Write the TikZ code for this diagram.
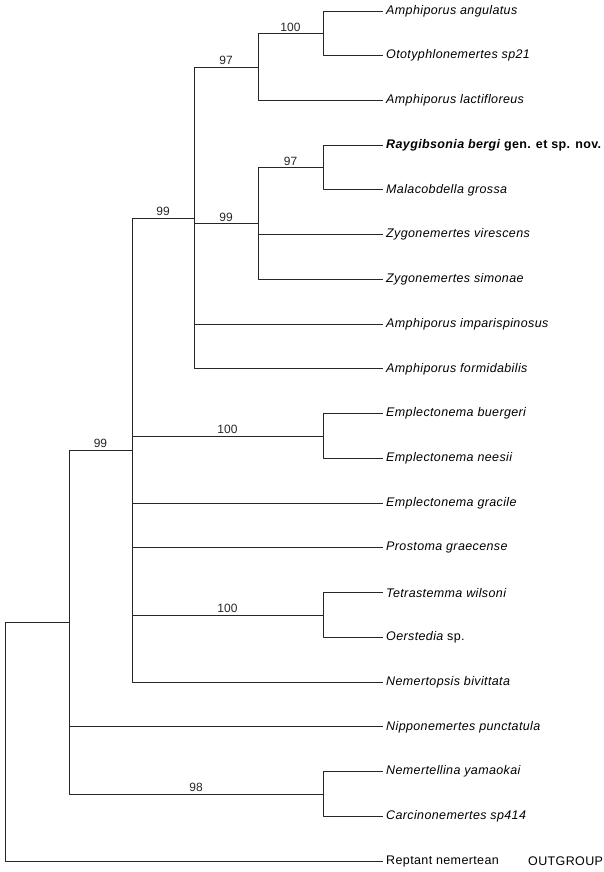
\documentclass[tikz,border=0pt]{standalone}
\usepackage{fontspec}
\setmainfont{Liberation Sans}
\newfontfamily\taxfont[LetterSpace=3]{Liberation Sans}
\begin{document}
\begin{tikzpicture}[line join = round, x=1pt, y=-1pt,
		font=\fontsize{12}{14}\selectfont,
		taxon/.style={anchor=west, inner sep=3pt, font=\fontsize{12.5}{14}\taxfont\itshape},
		branch/.style={line width=0.9pt, black!85},
		boot/.style={above, inner sep=1.5pt, pos=0.75}]
				\useasboundingbox (0,0) rectangle (604,872);
				\def \xl{383};
				\def \dy{44.737};
				% taxa, top to bottom
				\foreach \n/\t in {1/Amphiporus angulatus, 2/Ototyphlonemertes sp21, 3/Amphiporus lactifloreus,
					4/{\bfseries Raygibsonia bergi \upshape gen. et sp. nov.}, 5/Malacobdella grossa,
					6/Zygonemertes virescens, 7/Zygonemertes simonae, 8/Amphiporus imparispinosus,
					9/Amphiporus formidabilis, 10/Emplectonema buergeri, 11/Emplectonema neesii,
					12/Emplectonema gracile, 13/Prostoma graecense, 14/Tetrastemma wilsoni,
					15/{Oerstedia \upshape sp.}, 16/Nemertopsis bivittata, 17/Nipponemertes punctatula,
					18/Nemertellina yamaokai, 19/Carcinonemertes sp414, 20/{\upshape Reptant nemertean}}
					\node[taxon] (t\n) at (\xl,{11+(\n-1)*\dy}) {\t};
				\node[anchor=west, inner sep=0pt, font=\fontsize{12.5}{14}\taxfont] (og) at (528,861) {OUTGROUP};
				\path
				(323,33.4) coordinate (angOto)
				(258,67) coordinate (amph)
				(323,167.6) coordinate (rayMal)
				(258,223.5) coordinate (zygo)
				(194,218) coordinate (hoplo)
				(323,436) coordinate (emple)
				(323,615) coordinate (tetOer)
				(132,450) coordinate (mono)
				(323,794) coordinate (carci)
				(69,622) coordinate (ingroup)
				(5,741.5) coordinate (root)
				;
				\foreach \a/\b in {angOto/t1,angOto/t2,amph/t3,rayMal/t4,rayMal/t5,zygo/t6,zygo/t7,
					hoplo/t8,hoplo/t9,emple/t10,emple/t11,mono/t12,mono/t13,tetOer/t14,tetOer/t15,
					mono/t16,ingroup/t17,carci/t18,carci/t19,root/t20}
					\draw[branch] (\a) |- (\b.west);
				\draw[branch] (amph) |- node[boot]{100} (angOto);
				\draw[branch] (hoplo) |- node[boot]{97} (amph);
				\draw[branch] (zygo) |- node[boot]{97} (rayMal);
				\draw[branch] (hoplo) |- node[boot]{99} (zygo);
				\draw[branch] (mono) |- node[boot]{99} (hoplo);
				\draw[branch] (mono) |- node[boot]{100} (emple);
				\draw[branch] (mono) |- node[boot]{100} (tetOer);
				\draw[branch] (ingroup) |- node[boot]{99} (mono);
				\draw[branch] (ingroup) |- node[boot]{98} (carci);
				\draw[branch] (root) |- (ingroup);
			\end{tikzpicture}
\end{document}
